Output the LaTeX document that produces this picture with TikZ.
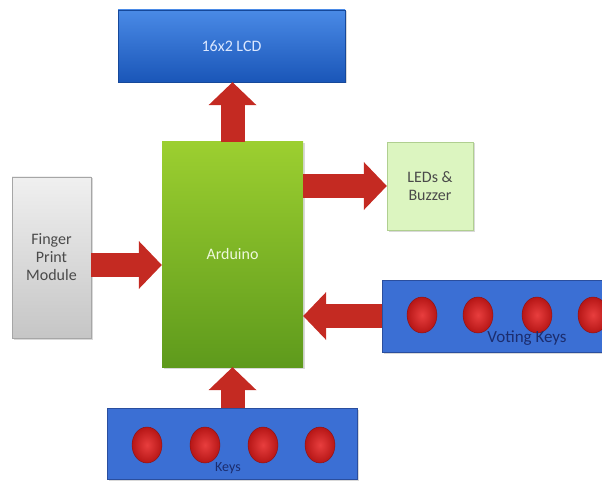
\documentclass[tikz,border=0pt]{standalone}
\usepackage{fontspec}
\setmainfont{Carlito}
\usetikzlibrary{arrows.meta,shapes.geometric,shadows}
\definecolor{lcdtop}{HTML}{4A8AE6}
\definecolor{lcdbot}{HTML}{1A56B8}
\definecolor{lcdedge}{HTML}{16489A}
\definecolor{lcdtext}{HTML}{DCE8FF}
\definecolor{ardtop}{HTML}{9CCF30}
\definecolor{ardbot}{HTML}{5E9A1C}
\definecolor{ardtext}{HTML}{EEF8DC}
\definecolor{ledfill}{HTML}{DCF5C0}
\definecolor{ledgreen}{HTML}{B0CF90}
\definecolor{keyblue}{HTML}{3B6FD4}
\definecolor{keyedge}{HTML}{2A4E9E}
\definecolor{keyred}{HTML}{E41C1C}
\definecolor{arrowred}{HTML}{C42A22}
\definecolor{darktext}{HTML}{4A4A4A}
\definecolor{navytext}{HTML}{1C2D6E}
\tikzset{
  block/.style={rectangle, inner sep=0pt, font=\fontsize{16}{18}\selectfont, align=center,
    drop shadow={opacity=0.3, shadow xshift=1.5pt, shadow yshift=-1.5pt}},
  bigarrow/.style={line width=24pt, draw=arrowred,
    -{Triangle[width=48pt, length=23pt, line width=0pt, fill=arrowred]}},
  key/.style={ellipse, minimum width=30pt, minimum height=36pt, inner sep=0pt,
    inner color=keyred!85!white, outer color=keyred!80!black, draw=keyred!60!black, line width=0.4pt},
  keylabel/.style={text=navytext, inner sep=0pt}
}
\begin{document}
\begin{tikzpicture}[x=1pt, y=-1pt]
  \useasboundingbox (0,0) rectangle (602,481);
  \clip (0,0) rectangle (602,481);
  % blocks
  \node (lcd) at (231.5,46) [block, minimum width=227pt, minimum height=72pt, top color=lcdtop, bottom color=lcdbot, draw=lcdedge, text=lcdtext] {16x2 LCD};
  \node (ard) at (232.5,254.5) [block, minimum width=141pt, minimum height=225pt, top color=ardtop, bottom color=ardbot, text=ardtext] {Arduino};
  \node (fp) at (51.5,257.5) [block, minimum width=79pt, minimum height=161pt, top color=gray!12, bottom color=gray!45, draw=gray!70, text=darktext] {Finger\\Print\\Module};
  \node (leds) at (430,186) [block, minimum width=86pt, minimum height=88pt, fill=ledfill, draw=ledgreen, text=darktext] {LEDs \&\\Buzzer};
  \node (vote) at (496,316) [block, minimum width=228pt, minimum height=72pt, fill=keyblue, draw=keyedge] {};
  \node (keys) at (232,443.5) [block, minimum width=250pt, minimum height=71pt, fill=keyblue, draw=keyedge] {};
  % push buttons
  \foreach \i/\x in {1/422, 2/478, 3/537, 4/593}
    \node (v\i) at (\x,315) [key] {};
  \foreach \i/\x in {1/147, 2/205, 3/263, 4/320}
    \node (k\i) at (\x,445) [key] {};
  \node (votelbl) at (527,338) [keylabel, font=\fontsize{17}{19}\selectfont] {Voting Keys};
  \node (keyslbl) at (228,468) [keylabel, font=\fontsize{14}{16}\selectfont] {Keys};
  % arrows
  \draw[bigarrow] (ard.north) -- (ard.north |- lcd.south);
  \draw[bigarrow] (ard.south |- keys.north) -- (ard.south);
  \draw[bigarrow] ([yshift=-7.5pt]fp.east) -- ([yshift=-7.5pt]fp.east -| ard.west);
  \draw[bigarrow] (ard.east |- leds.west) -- (leds.west);
  \draw[bigarrow] (vote.west) -- (vote.west -| ard.east);
\end{tikzpicture}
\end{document}
